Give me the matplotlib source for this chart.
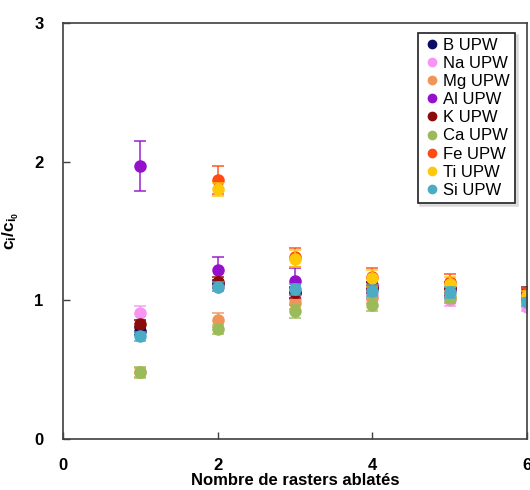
import numpy as np
import matplotlib.pyplot as plt

plt.rcParams['font.family'] = ['Liberation Sans', 'DejaVu Sans']
plt.rcParams['mathtext.fontset'] = 'custom'
plt.rcParams['mathtext.rm'] = 'Liberation Sans:bold'
plt.rcParams['mathtext.it'] = 'Liberation Sans:bold'
plt.rcParams['mathtext.bf'] = 'Liberation Sans:bold'

rasters = [1, 2, 3, 4, 5, 6]
labels = ['B UPW', 'Na UPW', 'Mg UPW', 'Al UPW', 'K UPW', 'Ca UPW', 'Fe UPW', 'Ti UPW', 'Si UPW']
colors = ['#0b0b66', '#f794f4', '#f0955a', '#9410cc', '#8b0a0a', '#9bbb59', '#ff4a12', '#ffc90a', '#4bacc6']

# ci/ci0 per element (nan = not visible)
b_vals = [0.78, 1.12, 1.05, 1.09, 1.08, 1.04]
na_vals = [0.91, 1.10, 1.01, 1.04, 1.00, 0.95]
mg_vals = [0.48, 0.86, 0.98, 1.02, 1.03, 1.02]
al_vals = [1.97, 1.22, 1.14, 1.11, 1.08, 1.04]
k_vals = [0.83, 1.13, 1.06, 1.09, 1.09, 1.06]
ca_vals = [0.48, 0.79, 0.92, 0.97, 1.02, 1.00]
fe_vals = [np.nan, 1.87, 1.31, 1.17, 1.13, 1.05]
ti_vals = [np.nan, 1.80, 1.30, 1.16, 1.12, 1.03]
si_vals = [0.74, 1.10, 1.08, 1.07, 1.06, 0.99]

b_err = [0.03, 0.03, 0.04, 0.04, 0.04, 0.03]
na_err = [0.05, 0.03, 0.04, 0.04, 0.04, 0.03]
mg_err = [0.03, 0.05, 0.04, 0.04, 0.04, 0.03]
al_err = [0.18, 0.09, 0.09, 0.05, 0.05, 0.04]
k_err = [0.03, 0.04, 0.04, 0.04, 0.04, 0.04]
ca_err = [0.04, 0.03, 0.05, 0.05, 0.04, 0.03]
fe_err = [np.nan, 0.10, 0.07, 0.06, 0.06, 0.04]
ti_err = [np.nan, 0.05, 0.06, 0.06, 0.05, 0.04]
si_err = [0.03, 0.03, 0.04, 0.04, 0.04, 0.03]

values = [b_vals, na_vals, mg_vals, al_vals, k_vals, ca_vals, fe_vals, ti_vals, si_vals]
errors = [b_err, na_err, mg_err, al_err, k_err, ca_err, fe_err, ti_err, si_err]

fig = plt.figure(figsize=(5.3, 4.9), dpi=100)
ax = fig.add_axes([0.119, 0.104, 0.875, 0.849])

for lab, col, v, e in zip(labels, colors, values, errors):
    ax.errorbar(rasters, v, yerr=e, fmt='none', ecolor=col, elinewidth=1.2,
                capsize=4, capthick=1.2, alpha=0.85)
    ax.plot(rasters, v, 'o', color=col, markersize=8, label=lab)

ax.set_xlim(0, 6)
ax.set_ylim(0, 3)
ax.set_xticks([0, 2, 4, 6])
ax.set_yticks([0, 1, 2, 3])
ax.tick_params(direction='in', length=5, width=1, color='#404040')
ax.tick_params(axis='x', pad=14)
ax.tick_params(axis='y', pad=14)
for t in ax.get_xticklabels() + ax.get_yticklabels():
    t.set_fontweight('bold')
    t.set_fontsize(12)
for s in ax.spines.values():
    s.set_color('#404040')
    s.set_linewidth(1.2)

ax.set_xlabel('Nombre de rasters ablatés', fontsize=12, fontweight='bold', labelpad=0)
ax.set_ylabel(r'$\mathbf{c_i/c_{i_0}}$', fontsize=12.5)
ax.yaxis.set_label_coords(-0.09, 0.5)

leg = ax.legend(loc='upper right', bbox_to_anchor=(0.975, 0.977), borderaxespad=0,
                fontsize=12, handlelength=1.1, handletextpad=0.15, labelspacing=0.19,
                borderpad=0.3, fancybox=False, edgecolor='#202020', markerscale=0.75,
                shadow={'color': '0.8', 'alpha': 0.6})
leg.get_frame().set_linewidth(1.2)

fig.savefig('out.png', dpi=100)
